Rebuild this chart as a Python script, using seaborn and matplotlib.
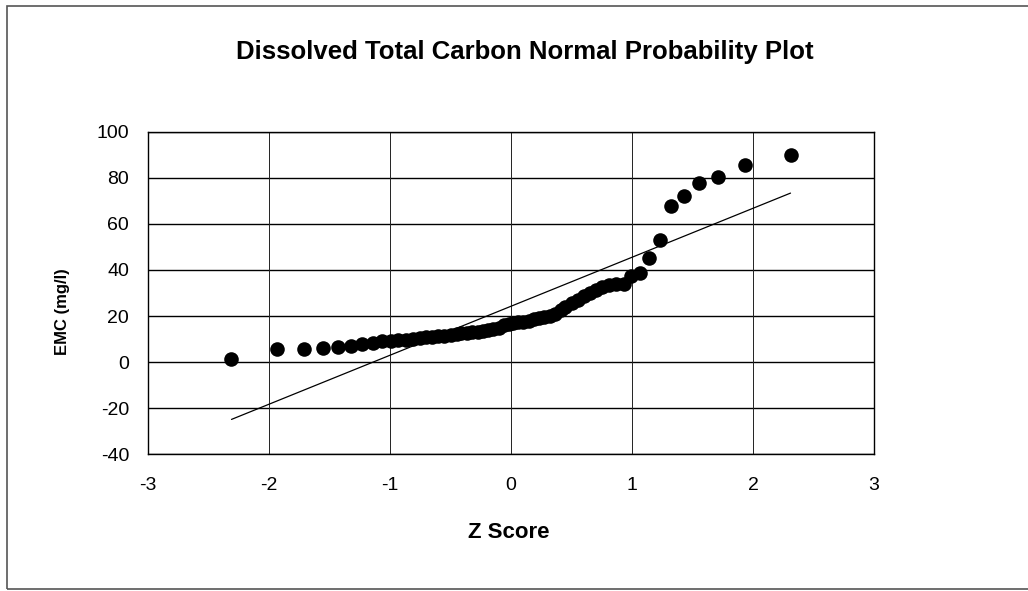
import numpy as np
import pandas as pd
import matplotlib
matplotlib.use('Agg')
import matplotlib.pyplot as plt
import matplotlib.patches as mpatches
import seaborn as sns

# z scores (plotting positions)
z_scores = [-2.31, -1.93, -1.71, -1.55, -1.43, -1.32, -1.23, -1.14, -1.07, -0.99,
            -0.93, -0.87, -0.81, -0.75, -0.70, -0.65, -0.60, -0.55, -0.50, -0.45,
            -0.41, -0.36, -0.32, -0.27, -0.23, -0.19, -0.15, -0.10, -0.06, -0.02,
            0.02, 0.06, 0.10, 0.15, 0.19, 0.23, 0.27, 0.32, 0.36, 0.41,
            0.45, 0.50, 0.55, 0.60, 0.65, 0.70, 0.75, 0.81, 0.87, 0.93,
            0.99, 1.07, 1.14, 1.23, 1.32, 1.43, 1.55, 1.71, 1.93, 2.31]

# EMC values (mg/l), sorted
emc_values = [1.3, 5.5, 5.8, 6.3, 6.5, 6.8, 8.0, 8.5, 9.0, 9.3,
              9.5, 9.8, 10.2, 10.5, 10.8, 11.0, 11.3, 11.5, 11.8, 12.2,
              12.5, 12.8, 13.0, 13.2, 13.5, 13.8, 14.2, 15.0, 16.0, 16.5,
              17.0, 17.3, 17.6, 18.0, 18.5, 19.0, 19.5, 20.2, 21.0, 22.5,
              24.0, 25.5, 27.0, 28.5, 30.0, 31.5, 32.5, 33.5, 33.8, 34.0,
              37.5, 38.8, 45.0, 53.0, 67.8, 72.2, 77.7, 80.3, 85.6, 90.0]

x_ticks = [-3, -2, -1, 0, 1, 2, 3]
y_ticks = [-40, -20, 0, 20, 40, 60, 80, 100]

Data = pd.DataFrame({'z': z_scores, 'emc': emc_values})

# theoretical normal line: mean + sd * z
mean = Data['emc'].mean()
sd = Data['emc'].std()
lineData = pd.DataFrame({'z': [min(z_scores), max(z_scores)]})
lineData['emc'] = mean + sd * lineData['z']

sns.set_style('white')
plt.rcParams['font.family'] = ['Liberation Sans', 'DejaVu Sans']
plt.rcParams['text.color'] = 'black'
plt.rcParams['xtick.color'] = 'black'
plt.rcParams['ytick.color'] = 'black'

fig = plt.figure(figsize=(10.28, 5.91), dpi=100)
ax = fig.add_axes([148 / 1028, 1 - 454.3 / 591, (874 - 148) / 1028, (454.3 - 131.7) / 591])

# outer chart border
fig.patches.append(mpatches.Rectangle((7 / 1028, 2 / 591), 1.1, 583 / 591, transform=fig.transFigure,
                                      fill=False, edgecolor='#555555', linewidth=1.2))

for y in y_ticks:
    ax.axhline(y, color='black', linewidth=1.0, zorder=0)
for x in x_ticks:
    ax.axvline(x, color='#222222', linewidth=0.7, zorder=0)

sns.lineplot(data=lineData, x='z', y='emc', color='black', linewidth=0.9, ax=ax)
sns.scatterplot(data=Data, x='z', y='emc', color='black', s=110, edgecolor='black', linewidth=0, ax=ax, zorder=3)

ax.set_xlim(-3, 3)
ax.set_ylim(-40, 100)
ax.set_xticks(x_ticks)
ax.set_yticks(y_ticks)
ax.set_xticklabels([str(t) for t in x_ticks])
ax.set_yticklabels([str(t) for t in y_ticks])
ax.tick_params(axis='both', direction='inout', length=7, width=1, color='black', labelcolor='black', labelsize=14)
ax.tick_params(axis='x', pad=13)
ax.tick_params(axis='y', pad=10)

for s in ['left', 'bottom', 'top', 'right']:
    ax.spines[s].set_color('black')
    ax.spines[s].set_linewidth(1.0)

ax.set_xlabel('')
ax.set_ylabel('')
fig.text(509 / 1028, 1 - 533 / 591, 'Z Score', ha='center', va='center', fontsize=16, fontweight='bold')
fig.text(62 / 1028, 1 - 312 / 591, 'EMC (mg/l)', ha='center', va='center', rotation=90,
         fontsize=12, fontweight='bold')
fig.text(525 / 1028, 1 - 52 / 591, 'Dissolved Total Carbon Normal Probability Plot', ha='center', va='center',
         fontsize=18.5, fontweight='bold')

fig.savefig('out.png', dpi=100, facecolor='white')
plt.close()
